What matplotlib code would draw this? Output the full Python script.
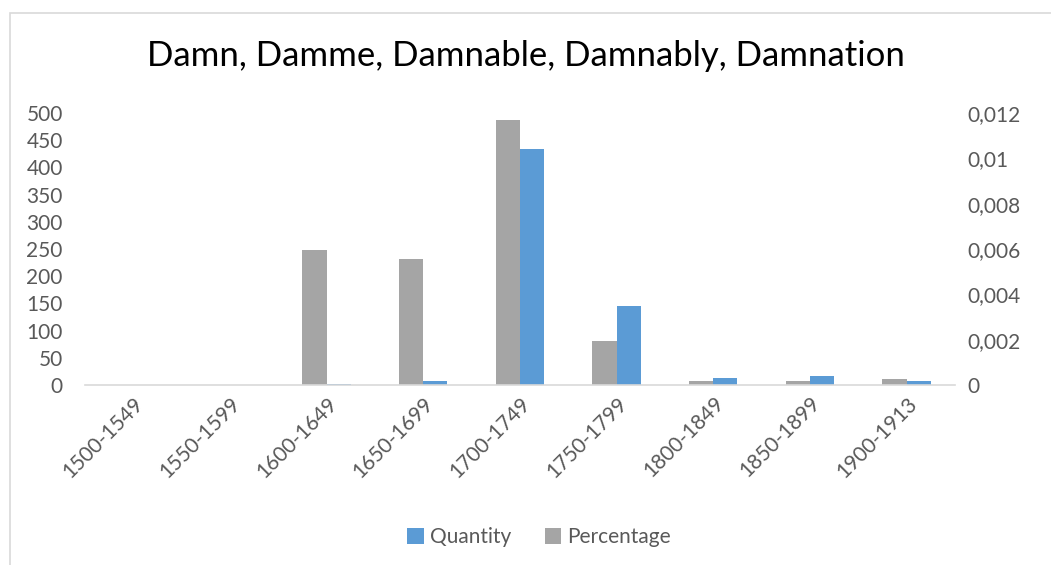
import matplotlib
matplotlib.use("Agg")
import matplotlib.pyplot as plt
import numpy as np
from matplotlib.ticker import FuncFormatter

periods = ["1500-1549", "1550-1599", "1600-1649", "1650-1699", "1700-1749",
           "1750-1799", "1800-1849", "1850-1899", "1900-1913"]
quantity = [0, 0, 2, 7, 434, 145, 12, 17, 7]
percentage = [0, 0, 0.00596, 0.00556, 0.01169, 0.00194, 0.00016, 0.00016, 0.00028]

BLUE = "#5B9BD5"
GRAY = "#A5A5A5"
TXT = "#595959"

plt.rcParams["font.family"] = ["Lato", "DejaVu Sans"]

fig = plt.figure(figsize=(10.51, 5.65), dpi=100)
ax = fig.add_axes([85 / 1051, 1 - 385 / 565, 870 / 1051, 272 / 565])
ax2 = ax.twinx()

x = np.arange(len(periods))
w = 0.25
ax2.bar(x - w / 2, percentage, w, color=GRAY, label="Percentage")
ax.bar(x + w / 2, quantity, w, color=BLUE, label="Quantity")
ax.set_zorder(ax2.get_zorder() + 1)
ax.patch.set_visible(False)

ax.set_xlim(-0.5, len(periods) - 0.5)
ax.set_ylim(0, 500)
ax.set_yticks(range(0, 501, 50))
ax2.set_ylim(0, 0.012)
ax2.set_yticks(np.arange(0, 0.0121, 0.002))
ax2.yaxis.set_major_formatter(FuncFormatter(
    lambda v, p: "0" if abs(v) < 1e-9 else ("%g" % round(v, 4)).replace(".", ",")))

ax.set_xticks(x)
ax.set_xticklabels(periods, rotation=45, ha="right", rotation_mode="anchor")

for a in (ax, ax2):
    for s in a.spines.values():
        s.set_visible(False)
    a.tick_params(length=0, labelsize=15, labelcolor=TXT)
ax.spines["bottom"].set_visible(True)
ax.spines["bottom"].set_color("#D9D9D9")
ax.spines["bottom"].set_linewidth(1.2)
ax.tick_params(axis="y", pad=16)
ax2.tick_params(axis="y", pad=9)
ax.tick_params(axis="x", pad=6)

fig.suptitle("Damn, Damme, Damnable, Damnably, Damnation", y=0.9,
             va="center", fontsize=25, color="#000000")

h1, l1 = ax.get_legend_handles_labels()
h2, l2 = ax2.get_legend_handles_labels()
fig.legend(h1 + h2, l1 + l2, loc="center", bbox_to_anchor=(0.513, 1 - 537 / 565),
           ncol=2, frameon=False, fontsize=15, labelcolor=TXT,
           handlelength=0.8, handleheight=0.8, handletextpad=0.3, columnspacing=1.6)

fig.patches.append(plt.Rectangle((10 / 1051, -0.1), 1.1, 1 - 13 / 565 + 0.1,
                                 transform=fig.transFigure, fill=False,
                                 edgecolor="#D9D9D9", linewidth=1.2))

fig.savefig("out.png", dpi=100)
